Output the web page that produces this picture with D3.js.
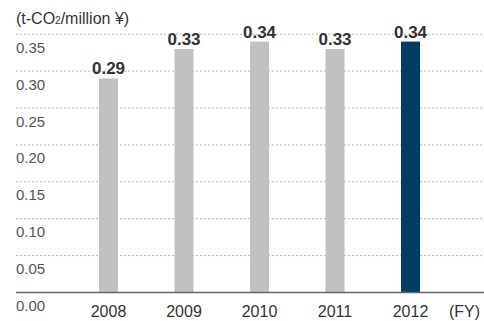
<!DOCTYPE html>
<html>
<head>
<meta charset="utf-8">
<script src="https://cdn.jsdelivr.net/npm/d3@7/dist/d3.min.js"></script>
<style>
  html, body { margin: 0; padding: 0; background: #fff; }
  svg { display: block; font-family: "Liberation Sans", Arial, sans-serif; }
</style>
</head>
<body>
<svg id="chart" width="484" height="321"></svg>
<script>
// CO2 emission intensity per fiscal year
const years = ["2008", "2009", "2010", "2011", "2012"];
const values = [0.29, 0.33, 0.34, 0.33, 0.34];
const valueLabels = ["0.29", "0.33", "0.34", "0.33", "0.34"];
const yTicks = [0, 0.05, 0.10, 0.15, 0.20, 0.25, 0.30, 0.35];
const yTickLabels = ["0.00", "0.05", "0.10", "0.15", "0.20", "0.25", "0.30", "0.35"];
const highlightYear = "2012";

const svg = d3.select("#chart");
const plotLeft = 16, plotRight = 484, baseline = 292.5, plotTop = 34.2;

const y = d3.scaleLinear().domain([0, 0.35]).range([baseline, plotTop]);
const x = d3.scaleBand().domain(years).range([70.75, 448.25]).paddingInner(0).paddingOuter(0);
const barW = 19;

// dashed gridlines (0.05 .. 0.35)
svg.append("g")
  .selectAll("line")
  .data(yTicks.slice(1))
  .join("line")
  .attr("x1", plotLeft).attr("x2", plotRight)
  .attr("y1", d => y(d)).attr("y2", d => y(d))
  .attr("stroke", "#b4b4b4")
  .attr("stroke-width", 1)
  .attr("stroke-dasharray", "2,2");

// tick labels sit just below each gridline
svg.append("g")
  .selectAll("text")
  .data(yTicks)
  .join("text")
  .attr("x", plotLeft)
  .attr("y", d => y(d) + 18.5)
  .attr("font-size", 15)
  .attr("fill", "#555")
  .text((d, i) => yTickLabels[i]);

// bars
svg.append("g")
  .selectAll("rect")
  .data(years)
  .join("rect")
  .attr("x", d => x(d) + x.bandwidth() / 2 - barW / 2)
  .attr("width", barW)
  .attr("y", (d, i) => y(values[i]))
  .attr("height", (d, i) => baseline - y(values[i]))
  .attr("fill", d => d === highlightYear ? "#003f63" : "#c0c1c0");

// baseline
svg.append("line")
  .attr("x1", plotLeft).attr("x2", plotRight)
  .attr("y1", baseline).attr("y2", baseline)
  .attr("stroke", "#666")
  .attr("stroke-width", 1.5);

// value labels
svg.append("g")
  .selectAll("text")
  .data(years)
  .join("text")
  .attr("x", d => x(d) + x.bandwidth() / 2)
  .attr("y", (d, i) => y(values[i]) - 4)
  .attr("text-anchor", "middle")
  .attr("font-size", 17)
  .attr("font-weight", "bold")
  .attr("fill", "#333")
  .text((d, i) => valueLabels[i]);

// x axis labels
svg.append("g")
  .selectAll("text")
  .data(years)
  .join("text")
  .attr("x", d => x(d) + x.bandwidth() / 2)
  .attr("y", 317)
  .attr("text-anchor", "middle")
  .attr("font-size", 16)
  .attr("fill", "#333")
  .text(d => d);

svg.append("text")
  .attr("x", 480).attr("y", 317)
  .attr("text-anchor", "end")
  .attr("font-size", 16)
  .attr("fill", "#333")
  .text("(FY)");

// unit label
const unit = svg.append("text")
  .attr("x", plotLeft).attr("y", 24)
  .attr("font-size", 16)
  .attr("fill", "#333");
unit.append("tspan").text("(t-CO");
unit.append("tspan").attr("font-size", 10).text("2");
unit.append("tspan").text("/million ¥)");
</script>
</body>
</html>
